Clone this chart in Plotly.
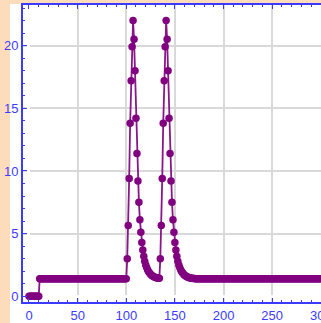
import plotly.graph_objects as go

# ---- data ----
x_values = list(range(0, 301))

start_zero = [0.0] * 11                 # x = 0..10
baseline_1 = [1.4] * 90                 # x = 11..100
peak_one = [3.0, 5.65, 9.4, 13.8, 17.2, 19.9, 22.0, 20.5, 18.0, 14.2, 11.4,
            9.2, 7.5, 6.1, 5.1, 4.3, 3.7, 3.2, 2.8, 2.5, 2.3, 2.1, 1.95, 1.85,
            1.75, 1.68, 1.62, 1.57, 1.53, 1.5, 1.47, 1.45, 1.44]   # x = 101..133
dip = [1.43]                            # x = 134
peak_two = [3.0, 5.65, 9.4, 13.8, 17.2, 19.9, 22.0, 20.5, 18.0, 14.2, 11.4,
            9.2, 7.5, 6.1, 5.1, 4.3, 3.7, 3.2, 2.8, 2.5, 2.3, 2.1, 1.95, 1.85,
            1.75, 1.68, 1.62, 1.57, 1.53, 1.5, 1.47, 1.45, 1.44, 1.43, 1.42,
            1.41]                       # x = 135..170
baseline_2 = [1.4] * 130                # x = 171..300

y_values = start_zero + baseline_1 + peak_one + dip + peak_two + baseline_2

x_ticks = [0, 50, 100, 150, 200, 250, 300]
y_ticks = [0, 5, 10, 15, 20]

# ---- style ----
PURPLE = "#800080"
BLUE = "#3b3bff"
PEACH = "#fddcbc"
GRID = "#d9d9d9"
FONT = dict(family="Liberation Sans Narrow, Arial Narrow, Liberation Sans, sans-serif",
            size=13, color=BLUE)

fig = go.Figure(go.Scatter(
    x=x_values, y=y_values, mode="lines+markers",
    line=dict(color="#8a168a", width=1.8),
    marker=dict(color=PURPLE, size=7.5),
    showlegend=False, hoverinfo="skip"))

W, H = 321, 323
ml, mr, mt, mb = 23, 0, 5, 21
pw, ph = W - ml - mr, H - mt - mb

fig.update_layout(
    width=W, height=H,
    margin=dict(l=ml, r=mr, t=mt, b=mb, pad=0),
    paper_bgcolor=PEACH, plot_bgcolor="white",
    shapes=[dict(type="rect", xref="paper", yref="paper", layer="below",
                 x0=(10 - ml) / pw, x1=1.1,
                 y0=-(mb + 5) / ph, y1=1 + 1 / ph,
                 fillcolor="white", line=dict(width=0))],
)

fig.update_xaxes(
    range=[-6.16, 300.2], tickvals=x_ticks, ticks="inside", ticklen=4,
    tickwidth=1, tickcolor=BLUE, showline=True, linecolor=BLUE, linewidth=2,
    mirror="ticks", showgrid=True, gridcolor=GRID, gridwidth=2,
    zeroline=True, zerolinecolor="white", zerolinewidth=3,
    tickfont=FONT, ticklabeloverflow="allow", automargin=False,
    minor=dict(dtick=10, tick0=0, ticks="inside", ticklen=2, tickcolor=BLUE,
               showgrid=False),
)
fig.update_yaxes(
    range=[-0.455, 23.24], tickvals=y_ticks, ticks="inside", ticklen=4,
    tickwidth=1, tickcolor=BLUE, showline=True, linecolor=BLUE, linewidth=2,
    mirror=False, showgrid=True, gridcolor=GRID, gridwidth=2,
    zeroline=True, zerolinecolor="white", zerolinewidth=3,
    tickfont=FONT, automargin=False,
    minor=dict(dtick=1, tick0=0, ticks="inside", ticklen=2, tickcolor=BLUE,
               showgrid=False),
)

fig.write_html("out.html")
